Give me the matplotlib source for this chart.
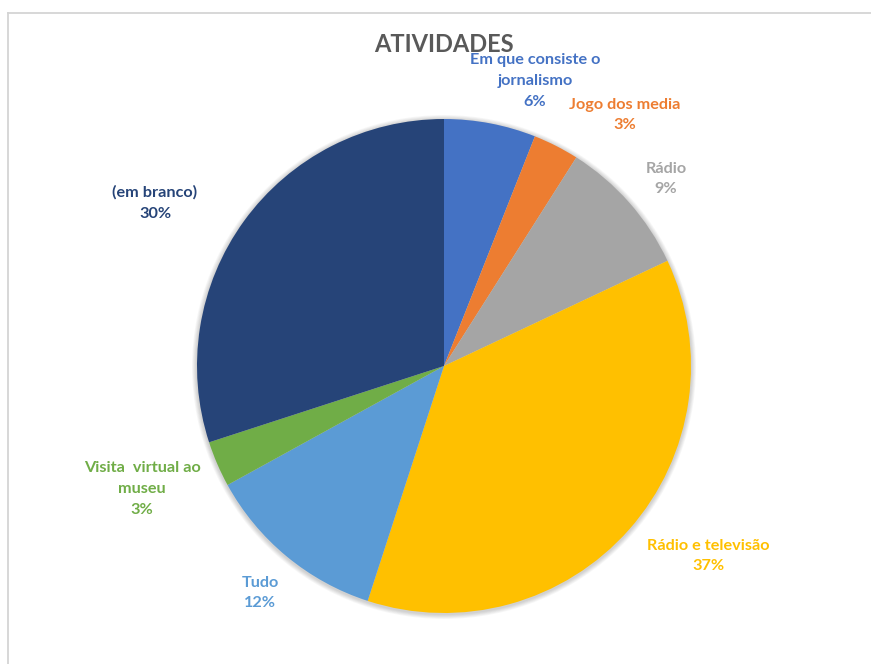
import matplotlib
matplotlib.use('Agg')
from matplotlib import pyplot as plt
from matplotlib.lines import Line2D
from matplotlib.patches import Circle

# ATIVIDADES pie chart
categorias = ['Em que consiste o\njornalismo', 'Jogo dos media', 'Rádio',
              'Rádio e televisão', 'Tudo', 'Visita  virtual ao\nmuseu', '(em branco)']
percentagens = [6, 3, 9, 37, 12, 3, 30]
cores = ['#4472C4', '#ED7D31', '#A5A5A5', '#FFC000', '#5B9BD5', '#70AD47', '#264478']

# label anchor points (figure pixels, origin top-left)
pos_rotulos = [(535, 81), (625, 115), (666, 179), (708, 556),
               (260, 593), (142, 489), (155, 203)]

W, H = 871, 664
fig = plt.figure(figsize=(W / 100, H / 100), dpi=100)
ax = fig.add_axes([0, 0, 1, 1])
ax.set_xlim(0, W)
ax.set_ylim(0, H)
ax.set_aspect('equal')
ax.axis('off')

cx, cy, r = 444, H - 366, 247

# soft shadow behind the pie
for i in range(6):
    ax.add_patch(Circle((cx, cy - 1), r + 1 + i * 0.8, color='#000000',
                        alpha=0.03, lw=0, zorder=0))

ax.pie(percentagens, colors=cores, startangle=90, counterclock=False,
       center=(cx, cy), radius=r, frame=True,
       wedgeprops=dict(linewidth=0, zorder=1))
ax.set_xlim(0, W)
ax.set_ylim(0, H)
ax.axis('off')

fonte = 'Lato'
for nome, v, cor, (px, py) in zip(categorias, percentagens, cores, pos_rotulos):
    ax.text(px, H - py, f'{nome}\n{v}%', color=cor, fontsize=11.7, fontweight='bold',
            family=fonte, ha='center', va='center', linespacing=1.6, zorder=3)

ax.text(444, H - 44, 'ATIVIDADES', color='#595959', fontsize=17, fontweight='bold',
        family=fonte, ha='center', va='center', zorder=3)

# light frame on top and left edges
fig.add_artist(Line2D([7.5 / W, 1], [1 - 12.5 / H] * 2, color='#d4d4d4', lw=1.3))
fig.add_artist(Line2D([7.5 / W] * 2, [0, 1 - 12.5 / H], color='#d4d4d4', lw=1.3))

fig.savefig('out.png', dpi=100, facecolor='white')
